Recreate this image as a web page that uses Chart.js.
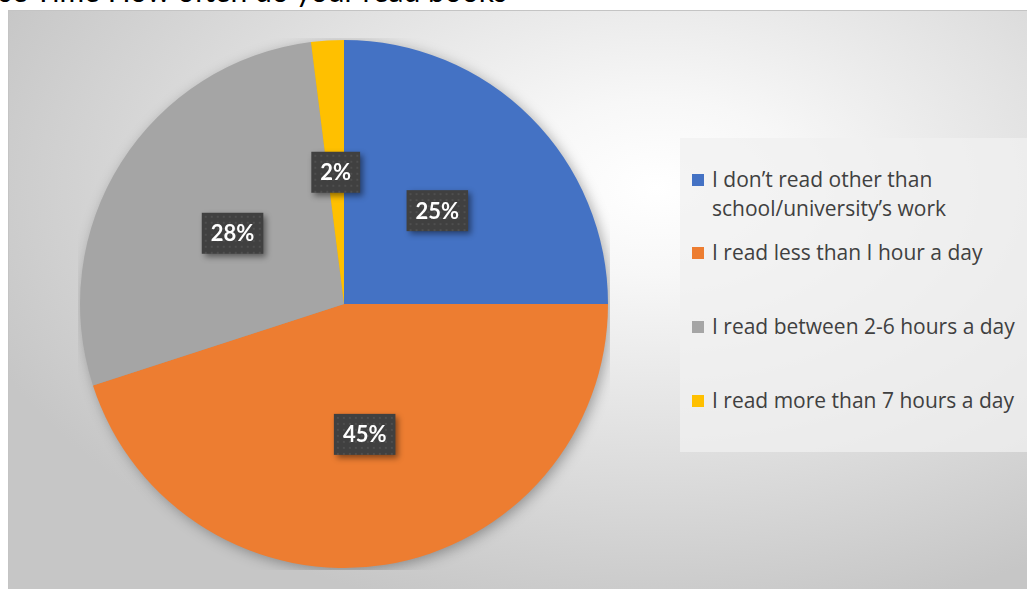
<!DOCTYPE html>
<html>
<head>
<meta charset="utf-8">
<script src="https://cdn.jsdelivr.net/npm/chart.js@4.4.1/dist/chart.umd.min.js"></script>
<style>
  html, body { margin: 0; padding: 0; background: #fff; }
  body { width: 1027px; height: 589px; position: relative; overflow: hidden; font-family: Lato, "Open Sans", sans-serif; }
  #title { position: absolute; left: -1px; top: -27px; font-size: 30px; color: #000; white-space: nowrap; line-height: 34px; }
  #frame { position: absolute; left: 8px; top: 10px; width: 1030px; height: 590px; border: 1px solid #c4c4c4; box-sizing: border-box;
           background: radial-gradient(ellipse 70% 75% at 63% 30%, #ffffff 0%, #f7f7f7 20%, #e2e2e2 55%, #c6c6c6 100%); }
  #wrap { position: absolute; left: 78px; top: 38px; width: 532px; height: 532px; }
  #legend { position: absolute; left: 680px; top: 138px; width: 347px; height: 314px; background: rgba(240,240,240,0.75); }
  .item { position: absolute; left: 12px; display: flex; align-items: flex-start; font-family: "Open Sans", sans-serif; font-size: 21px; line-height: 29px; color: #404040; white-space: nowrap; }
  .sw { width: 12px; height: 12px; margin-top: 9px; margin-right: 8px; flex: none; }
</style>
</head>
<body>
<div id="title">se Time How often do your read books</div>
<div id="frame"></div>
<div id="wrap"><canvas id="chart"></canvas></div>
<div id="legend"></div>
<script>
const labels = [
  'I don\u2019t read other than|school/university\u2019s work',
  'I read less than I hour a day',
  'I read between 2-6 hours a day',
  'I read more than 7 hours a day',
];
const values = [25, 45, 28, 2];
const colors = ['#4472c4', '#ed7d31', '#a5a5a5', '#ffc000'];

// legend (html, Excel-style spacing)
const legendTops = [27, 100, 174, 248];
const legend = document.getElementById('legend');
labels.forEach((l, i) => {
  const d = document.createElement('div');
  d.className = 'item';
  d.style.top = legendTops[i] + 'px';
  d.innerHTML = `<span class="sw" style="background:${colors[i]}"></span><span>${l.split('|').join('<br>')}</span>`;
  legend.appendChild(d);
});

const pieShadow = {
  id: 'pieShadow',
  beforeDatasetsDraw(chart) {
    const arc = chart.getDatasetMeta(0).data[0];
    if (!arc) return;
    const ctx = chart.ctx;
    ctx.save();
    ctx.shadowColor = 'rgba(0,0,0,0.35)';
    ctx.shadowBlur = 14;
    ctx.shadowOffsetX = 3;
    ctx.shadowOffsetY = 3;
    ctx.fillStyle = '#999';
    ctx.beginPath();
    ctx.arc(arc.x, arc.y, arc.outerRadius - 1, 0, Math.PI * 2);
    ctx.fill();
    ctx.restore();
  }
};

const boxLabels = {
  id: 'boxLabels',
  afterDatasetsDraw(chart) {
    const ctx = chart.ctx;
    const total = values.reduce((a, b) => a + b, 0);
    chart.getDatasetMeta(0).data.forEach((arc, i) => {
      const p = arc.tooltipPosition();
      const txt = Math.round(values[i] / total * 100) + '%';
      ctx.save();
      ctx.font = 'bold 22px Lato, "Open Sans", sans-serif';
      const w = ctx.measureText(txt).width + 18;
      const h = 41;
      ctx.shadowColor = 'rgba(0,0,0,0.45)';
      ctx.shadowBlur = 6;
      ctx.shadowOffsetX = 3;
      ctx.shadowOffsetY = 3;
      ctx.fillStyle = '#404040';
      ctx.fillRect(p.x - w / 2, p.y - h / 2, w, h);
      ctx.shadowColor = 'transparent';
      // faint dotted texture
      ctx.fillStyle = 'rgba(255,255,255,0.08)';
      for (let yy = p.y - h / 2 + 3; yy < p.y + h / 2; yy += 6)
        for (let xx = p.x - w / 2 + 3; xx < p.x + w / 2; xx += 6)
          ctx.fillRect(xx, yy, 2, 2);
      ctx.fillStyle = '#ffffff';
      ctx.textAlign = 'center';
      ctx.textBaseline = 'middle';
      ctx.fillText(txt, p.x, p.y + 1);
      ctx.restore();
    });
  }
};

new Chart(document.getElementById('chart'), {
  type: 'pie',
  data: {
    labels: labels.map(l => l.replace('|', ' ')),
    datasets: [{ data: values, backgroundColor: colors, borderWidth: 0 }],
  },
  options: {
    responsive: true, maintainAspectRatio: false, animation: false,
    layout: { padding: 2 },
    plugins: { legend: { display: false }, tooltip: { enabled: false } },
  },
  plugins: [pieShadow, boxLabels],
});
</script>
</body>
</html>
